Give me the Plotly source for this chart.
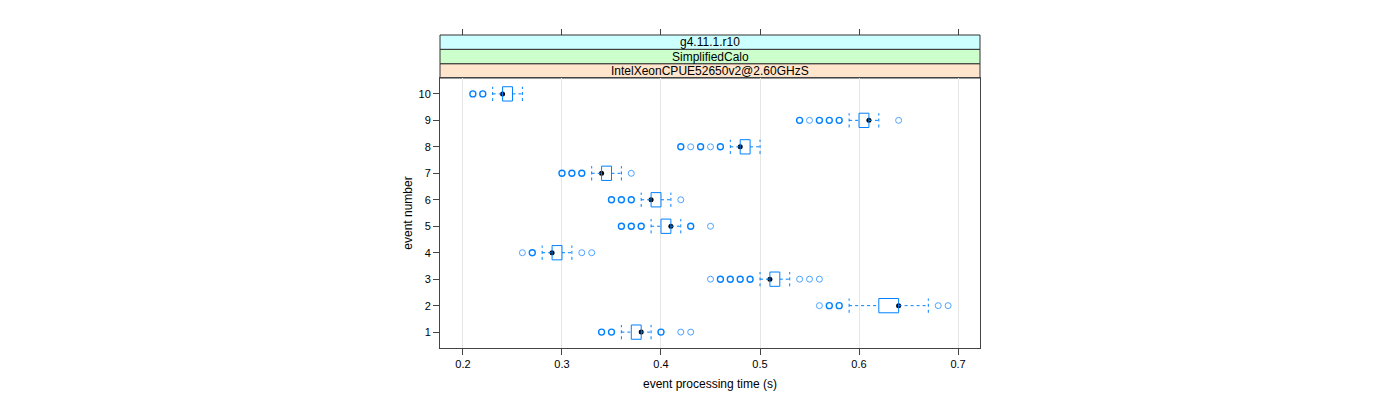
import plotly.graph_objects as go

events = [1, 2, 3, 4, 5, 6, 7, 8, 9, 10]
lower_whisker = [0.36, 0.59, 0.50, 0.28, 0.39, 0.38, 0.33, 0.47, 0.59, 0.23]
q1 = [0.37, 0.62, 0.51, 0.29, 0.40, 0.39, 0.34, 0.48, 0.60, 0.24]
median = [0.38, 0.64, 0.51, 0.29, 0.41, 0.39, 0.34, 0.48, 0.61, 0.24]
q3 = [0.38, 0.64, 0.52, 0.30, 0.41, 0.40, 0.35, 0.49, 0.61, 0.25]
upper_whisker = [0.39, 0.67, 0.53, 0.31, 0.42, 0.41, 0.36, 0.50, 0.62, 0.26]
outliers = [
    [0.34, 0.35, 0.40, 0.42, 0.43],
    [0.56, 0.57, 0.58, 0.68, 0.69],
    [0.45, 0.46, 0.47, 0.48, 0.49, 0.54, 0.55, 0.56],
    [0.26, 0.27, 0.32, 0.33],
    [0.36, 0.37, 0.38, 0.43, 0.45],
    [0.35, 0.36, 0.37, 0.42],
    [0.30, 0.31, 0.32, 0.37],
    [0.42, 0.43, 0.44, 0.45, 0.46],
    [0.54, 0.55, 0.56, 0.57, 0.58, 0.64],
    [0.21, 0.22],
]
outlier_counts = [
    [2, 2, 2, 1, 1],
    [1, 2, 2, 1, 1],
    [1, 2, 2, 2, 2, 1, 1, 1],
    [1, 2, 1, 1],
    [2, 2, 2, 2, 1],
    [2, 2, 2, 1],
    [2, 2, 2, 1],
    [2, 1, 2, 1, 2],
    [2, 1, 2, 2, 2, 1],
    [2, 2],
]
x_ticks = [0.2, 0.3, 0.4, 0.5, 0.6, 0.7]
strip_labels = ["IntelXeonCPUE52650v2@2.60GHzS", "SimplifiedCalo", "g4.11.1.r10"]
strip_colors = ["#ffe5cc", "#ccffcc", "#ccffff"]

BLUE = "#0080ff"
FONT = "Liberation Sans"
HW = 0.27

fig = go.Figure()
shapes = []
for i, ev in enumerate(events):
    shapes.append(dict(type="rect", xref="x", yref="y", x0=q1[i], x1=q3[i],
                       y0=ev - HW, y1=ev + HW, line=dict(color=BLUE, width=1),
                       fillcolor="rgba(0,0,0,0)", layer="above"))
    for a, b in [(lower_whisker[i], q1[i]), (q3[i], upper_whisker[i])]:
        shapes.append(dict(type="line", xref="x", yref="y", x0=a, x1=b, y0=ev, y1=ev,
                           line=dict(color=BLUE, width=1, dash="3px,3px")))
    for w in [lower_whisker[i], upper_whisker[i]]:
        shapes.append(dict(type="line", xref="x", yref="y", x0=w, x1=w,
                           y0=ev - HW, y1=ev + HW,
                           line=dict(color=BLUE, width=1, dash="3px,3px")))

heavy_x, heavy_y, light_x, light_y = [], [], [], []
for i, ev in enumerate(events):
    for v, c in zip(outliers[i], outlier_counts[i]):
        if c > 1:
            heavy_x.append(v); heavy_y.append(ev)
        else:
            light_x.append(v); light_y.append(ev)

fig.add_trace(go.Scatter(x=light_x, y=light_y, mode="markers", showlegend=False,
                         marker=dict(symbol="circle-open", size=6, color="#4da3ff",
                                     line=dict(width=1.0, color="#4da3ff"))))
fig.add_trace(go.Scatter(x=heavy_x, y=heavy_y, mode="markers", showlegend=False,
                         marker=dict(symbol="circle-open", size=6, color=BLUE,
                                     line=dict(width=1.4, color=BLUE))))
fig.add_trace(go.Scatter(x=median, y=events, mode="markers", showlegend=False,
                         marker=dict(symbol="circle", size=5, color="black")))
fig.add_trace(go.Scatter(x=[None], y=[None], xaxis="x2", showlegend=False))

# strips (paper coords within plot area); page has an 8px body offset
OFF = 8
TOP, BOT = 35, 348
H = float(BOT - TOP)
def py(p):
    return (BOT - p) / H
strip_edges = [78, 63.7, 49.3, 35]
for k in range(3):
    shapes.append(dict(type="rect", xref="paper", yref="paper", x0=0, x1=1,
                       y0=py(strip_edges[k]), y1=py(strip_edges[k + 1]),
                       fillcolor=strip_colors[k], line=dict(color="#333333", width=1),
                       layer="below"))
annotations = []
for k in range(3):
    annotations.append(dict(xref="paper", yref="paper", x=0.5,
                            y=(py(strip_edges[k]) + py(strip_edges[k + 1])) / 2,
                            text=strip_labels[k], showarrow=False,
                            font=dict(family=FONT, size=12, color="black"),
                            xanchor="center", yanchor="middle"))

xr = [0.1768, 0.7222]
fig.update_layout(
    width=1400, height=400,
    margin=dict(l=440 - OFF, r=420 + OFF, t=TOP - OFF, b=400 - BOT + OFF),
    plot_bgcolor="white", paper_bgcolor="white",
    font=dict(family=FONT, size=11, color="black"),
    shapes=shapes, annotations=annotations,
    xaxis=dict(range=xr, tickvals=x_ticks, ticktext=[str(t) for t in x_ticks],
               ticks="outside", ticklen=6, tickcolor="#444444",
               showline=True, linecolor="#444444", linewidth=1, mirror=True,
               showgrid=True, gridcolor="#e6e6e6", gridwidth=1, zeroline=False,
               title=dict(text="event processing time (s)", font=dict(size=12), standoff=10),
               anchor="y"),
    xaxis2=dict(range=xr, matches="x", overlaying="x", side="top", anchor="free",
                position=1.0, tickvals=x_ticks, ticks="outside", ticklen=6,
                tickcolor="#444444", showticklabels=False, showgrid=False,
                zeroline=False, showline=False),
    yaxis=dict(range=[0.4, 10.6], domain=[0, py(78)], tickvals=events,
               ticktext=[str(e) for e in events], ticks="outside", ticklen=6,
               tickcolor="#444444", showline=True, linecolor="#444444", linewidth=1,
               mirror=True, showgrid=False, zeroline=False,
               title=dict(text="event number", font=dict(size=12), standoff=3)),
)

fig.write_html("out.html")
